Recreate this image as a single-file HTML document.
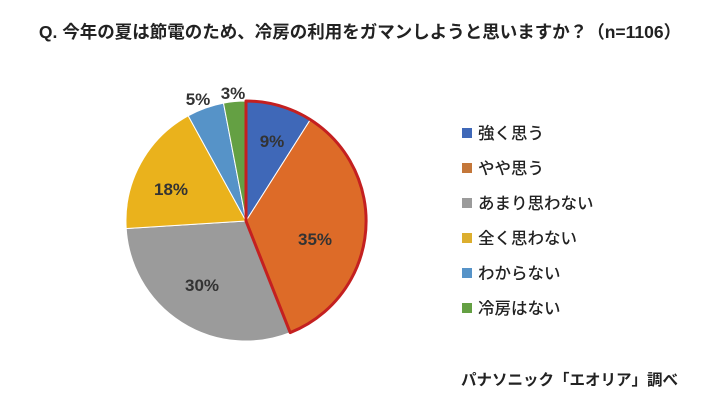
<!DOCTYPE html>
<html><head><meta charset="utf-8"><style>
body{margin:0;width:720px;height:405px;background:#fff;overflow:hidden;font-family:"Liberation Sans","Noto Sans CJK JP",sans-serif;color:#222}
.t{position:absolute;left:0;top:19px;width:720px;text-align:center;font-size:17.5px;font-weight:bold;white-space:nowrap}
.lg{position:absolute;left:462px;font-size:16.5px;line-height:20px;font-weight:500}
.lg i{display:inline-block;width:10px;height:10px;margin-right:6px;vertical-align:1px}
.src{position:absolute;left:461px;top:368px;font-size:15.5px;font-weight:bold;white-space:nowrap}
</style></head><body>
<div class="t">Q. 今年の夏は節電のため、冷房の利用をガマンしようと思いますか？（n=1106）</div>
<svg width="720" height="405" style="position:absolute;left:0;top:0">
<g stroke="#fff" stroke-width="1">
<path d="M246,221 L246,101 A120,120 0 0 1 310.3,119.7 Z" fill="#3f68b8"/>
<path d="M246,221 L310.3,119.7 A120,120 0 0 1 290.2,332.6 Z" fill="#dd6b28"/>
<path d="M246,221 L290.2,332.6 A120,120 0 0 1 126.2,228.5 Z" fill="#9b9b9b"/>
<path d="M246,221 L126.2,228.5 A120,120 0 0 1 188.2,115.8 Z" fill="#eab21c"/>
<path d="M246,221 L188.2,115.8 A120,120 0 0 1 223.5,103.1 Z" fill="#5693c8"/>
<path d="M246,221 L223.5,103.1 A120,120 0 0 1 246,101 Z" fill="#64a043"/>
</g>
<path d="M246,221 L246,101 A120,120 0 0 1 290.2,332.6 Z" fill="none" stroke="#c42020" stroke-width="3" stroke-linejoin="round"/>
<g font-size="17" font-weight="bold" fill="#333" text-anchor="middle" font-family="Liberation Sans,sans-serif">
<text x="272" y="147">9%</text>
<text x="315" y="245">35%</text>
<text x="202" y="291">30%</text>
<text x="171" y="195">18%</text>
<text x="198" y="105">5%</text>
<text x="233" y="99">3%</text>
</g>
</svg>
<div class="lg" style="top:124px"><i style="background:#3f68b8"></i>強く思う</div>
<div class="lg" style="top:159px"><i style="background:#c4773a"></i>やや思う</div>
<div class="lg" style="top:194px"><i style="background:#9b9b9b"></i>あまり思わない</div>
<div class="lg" style="top:229px"><i style="background:#dcae2e"></i>全く思わない</div>
<div class="lg" style="top:264px"><i style="background:#5693c8"></i>わからない</div>
<div class="lg" style="top:299px"><i style="background:#64a043"></i>冷房はない</div>
<div class="src">パナソニック「エオリア」調べ</div>
</body></html>
